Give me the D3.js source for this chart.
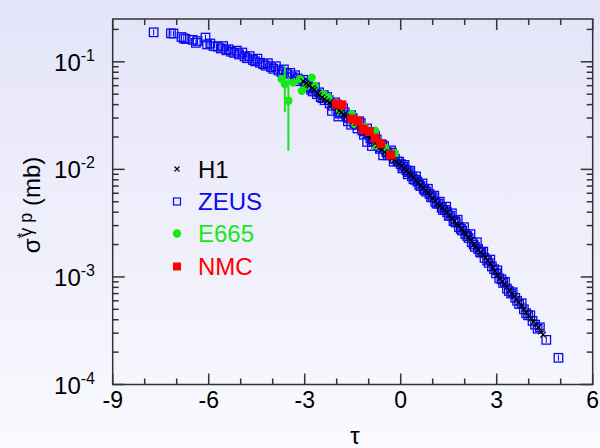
<!DOCTYPE html>
<html><head><meta charset="utf-8">
<script src="https://cdn.jsdelivr.net/npm/d3@7"></script>
<style>html,body{margin:0;padding:0;background:#f0f0fb;overflow:hidden}</style>
</head><body>
<svg id="c" width="600" height="448"></svg>
<script>
// ---- data (tau, sigma in mb) ----
const zeusTau = [-7.72,-7.18,-7.10,-6.85,-6.78,-6.72,-6.50,-6.40,-6.35,-6.10,-6.05,-5.95,-5.85,-5.72,-5.62,-5.55,-5.45,-5.38,-5.30,-5.20,-5.12,-5.05,-4.95,-4.88,-4.80,-4.72,-4.62,-4.55,-4.48,-4.40,-4.30,-4.22,-4.15,-4.05,-3.98,-3.90,-3.82,-3.72,-3.65,-3.55,-3.45,-3.38,-3.30,-3.22,-3.15,-3.05,-2.98,-2.90,-2.80,-2.72,-2.62,-2.55,-2.45,-2.38,-2.30,-2.22,-2.15,-2.12,-2.05,-1.95,-1.95,-1.88,-1.80,-1.70,-1.62,-1.55,-1.55,-1.45,-1.38,-1.30,-1.20,-1.12,-1.05,-1.05,-0.95,-0.90,-0.88,-0.80,-0.70,-0.62,-0.55,-0.52,-0.45,-0.35,-0.28,-0.18,-0.10,0.00,0.08,0.18,0.25,0.35,0.45,0.52,0.62,0.72,0.80,0.90,1.00,1.08,1.18,1.28,1.38,1.45,1.55,1.65,1.72,1.82,1.92,2.02,2.12,2.22,2.32,2.42,2.52,2.62,2.75,2.85,2.98,3.08,3.20,3.32,3.45,3.58,3.70,3.85,3.98,4.12,4.28,4.55,4.93,
  -2.95,-2.85,-2.75,-2.68,-2.50,-2.40,-2.25,-2.00,-1.90,-1.75,-1.65,-1.50,-1.35,-1.25,-1.15,-1.00,-0.85,-0.75,-0.65,-0.58,-0.40,-0.30,-0.22,-0.05,0.05,0.12,0.22,0.30,0.40,0.48,0.58,0.68,0.75,0.85,0.95,1.05,1.12,1.22,1.32,1.42,1.50,1.60,1.70,1.78,1.88,1.98,2.08,2.18,2.28,2.38,2.48,2.58,2.70,2.80,2.92,3.02,3.15,3.26,3.38,3.50,3.64,3.78,3.92,4.05,4.20,4.35];
const zeusSigma = [0.188,0.184,0.183,0.170,0.165,0.163,0.160,0.150,0.156,0.168,0.145,0.148,0.140,0.138,0.133,0.140,0.128,0.131,0.124,0.121,0.127,0.117,0.122,0.112,0.108,0.113,0.104,0.101,0.107,0.098,0.095,0.092,0.097,0.089,0.086,0.091,0.083,0.080,0.085,0.077,0.079,0.072,0.075,0.070,0.066,0.068,0.060,0.062,0.055,0.057,0.050,0.052,0.046,0.044,0.047,0.041,0.035,0.039,0.042,0.036,0.031,0.034,0.037,0.031,0.030,0.032,0.026,0.027,0.026,0.028,0.023,0.0225,0.024,0.018,0.0195,0.0165,0.0190,0.0205,0.0168,0.0160,0.0135,0.0165,0.0145,0.0138,0.0143,0.0125,0.0118,0.0112,0.0106,0.0098,0.0094,0.0086,0.0080,0.0077,0.0070,0.0066,0.0062,0.0059,0.0055,0.0050,0.0048,0.0044,0.0042,0.0040,0.0037,0.0033,0.0032,0.0029,0.0027,0.0025,0.0023,0.0021,0.0019,0.00182,0.00168,0.00150,0.00135,0.00125,0.00108,0.00097,0.00088,0.00078,0.00070,0.00064,0.00056,0.00050,0.00044,0.00039,0.00033,0.00026,0.000177,
  0.064,0.058,0.053,0.058,0.047,0.049,0.044,0.040,0.033,0.034,0.028,0.030,0.024,0.027,0.021,0.022,0.018,0.019,0.0155,0.0170,0.0135,0.0150,0.0118,0.0118,0.0102,0.0110,0.0090,0.0097,0.0081,0.0086,0.0072,0.0074,0.0064,0.0066,0.0055,0.0057,0.0048,0.0050,0.0042,0.0045,0.0037,0.0039,0.0033,0.0034,0.0028,0.0029,0.0024,0.0025,0.0020,0.0021,0.0017,0.00172,0.00142,0.00145,0.00118,0.00115,0.00095,0.00090,0.00074,0.00072,0.00060,0.00057,0.00046,0.00044,0.00036,0.00034];

const h1Tau = [-3.05,-2.95,-2.85,-2.70,-2.55,-2.45,-2.30,-2.15,-2.00,-1.85,-1.70,-1.55,-1.40,-1.25,-1.10,-0.95,-0.80,-0.65,-0.50,-0.35,-0.20,-0.05,0.10,0.25,0.40,0.55,0.70,0.85,1.00,1.15,1.30,1.45,1.60,1.75,1.90,2.05,2.20,2.35,2.50,2.65,2.80,2.95,3.10,3.25,3.40,3.55,3.70,3.85,4.00,4.15,4.30,4.45,
  -2.90,-2.75,-2.60,-2.38,-2.22,-2.08,-1.92,-1.78,-1.62,-1.48,-1.32,-1.18,-1.02,-0.88,-0.72,-0.58,-0.42,-0.28,-0.12,0.02,0.18,0.32,0.48,0.62,0.78,0.92,1.08,1.22,1.38,1.52,1.68,1.82,1.98,2.12,2.28,2.42,2.58,2.72,2.88,3.02,3.18,3.32,3.48,3.62,3.78,3.92,4.08,4.22,4.38];
const h1Sigma = [0.066,0.063,0.060,0.055,0.049,0.047,0.043,0.040,0.037,0.034,0.031,0.029,0.027,0.0245,0.022,0.0195,0.0175,0.0160,0.0145,0.0133,0.0122,0.0113,0.0102,0.0093,0.0084,0.0075,0.0067,0.0061,0.0054,0.0048,0.0044,0.0040,0.0035,0.0031,0.0028,0.0025,0.0022,0.0019,0.0017,0.00152,0.00133,0.00113,0.00097,0.00086,0.00075,0.00066,0.00058,0.00050,0.00044,0.00038,0.00034,0.00029,
  0.061,0.057,0.051,0.045,0.042,0.039,0.035,0.032,0.030,0.028,0.0255,0.0232,0.0205,0.0185,0.0167,0.0152,0.0139,0.0127,0.0117,0.0107,0.0097,0.0088,0.0079,0.0071,0.0064,0.0057,0.0051,0.0046,0.0042,0.0037,0.0033,0.0030,0.0026,0.0023,0.0020,0.0018,0.0016,0.00142,0.00122,0.00104,0.00091,0.00080,0.00070,0.00062,0.00054,0.00047,0.00041,0.00036,0.00031];

const e665Tau   = [-3.72,-3.62,-3.51,-3.36,-3.15,-3.09,-2.94,-2.78,-2.68,-2.42,-2.26,-1.90,-1.53,-1.43,-1.12,-0.80,-0.75,-0.49,-0.18];
const e665Sigma = [0.069,0.062,0.0434,0.064,0.069,0.0537,0.0597,0.0713,0.0597,0.050,0.0466,0.0351,0.0327,0.0264,0.0246,0.0229,0.0166,0.0158,0.0141];
const e665Err   = [0.004,0.028,0.0285,0.004,0.004,0.003,0.003,0.004,0.003,0.003,0.002,0.002,0.002,0.0015,0.0015,0.0012,0.001,0.001,0.001];

const nmcTau   = [-2.00,-1.84,-1.53,-1.33,-1.17,-0.98,-0.80,-0.62,-0.31];
const nmcSigma = [0.0405,0.0398,0.0294,0.0279,0.0237,0.0225,0.0195,0.0174,0.0136];

const xTickLabels = [-9,-6,-3,0,3,6];
const yTickExps = [-1,-2,-3,-4];
const legendNames = ["H1","ZEUS","E665","NMC"];
const legendColors = ["#000000","#0a0af0","#18e818","#ff0000"];

// ---- drawing ----
const W=600,H=448;
const L=112.7,R=592.7,T=19,B=384.5;
const FONT = "'Liberation Sans', Arial, Helvetica, sans-serif";
const svg = d3.select('#c');
const defs = svg.append('defs');
const grad = defs.append('linearGradient').attr('id','bg').attr('x1',0).attr('y1',0).attr('x2',0).attr('y2',1);
grad.append('stop').attr('offset','0%').attr('stop-color','#e4e4f9');
grad.append('stop').attr('offset','100%').attr('stop-color','#f9f9fe');
svg.append('rect').attr('width',W).attr('height',H).attr('fill','url(#bg)');

const x = d3.scaleLinear().domain([-9,6]).range([L,R]);
const y = d3.scaleLog().domain([1e-4,0.25]).range([B,T]);

const zeus = zeusTau.map((t,i)=>({t, s:zeusSigma[i]}));
const h1 = h1Tau.map((t,i)=>({t, s:h1Sigma[i]}));
const e665 = e665Tau.map((t,i)=>({t, s:e665Sigma[i], e:e665Err[i]}));
const nmc = nmcTau.map((t,i)=>({t, s:nmcSigma[i]}));

const plot = svg.append('g');
// ZEUS
const zg = plot.append('g');
zg.selectAll('rect').data(zeus).join('rect')
  .attr('x',d=>x(d.t)-4.25).attr('y',d=>y(d.s)-4.25).attr('width',8.5).attr('height',8.5)
  .attr('fill','none').attr('stroke','#0a0af0').attr('stroke-width',1.3);
zg.selectAll('line').data(zeus).join('line')
  .attr('x1',d=>x(d.t)).attr('x2',d=>x(d.t))
  .attr('y1',d=>y(d.s)-3).attr('y2',d=>y(d.s)+3)
  .attr('stroke','#0a0af0').attr('stroke-width',1);
// E665
const eg = plot.append('g');
eg.selectAll('line').data(e665).join('line')
  .attr('x1',d=>x(d.t)).attr('x2',d=>x(d.t))
  .attr('y1',d=>y(d.s+d.e)).attr('y2',d=>y(d.s-d.e))
  .attr('stroke','#18e818').attr('stroke-width',2);
eg.selectAll('circle').data(e665).join('circle')
  .attr('cx',d=>x(d.t)).attr('cy',d=>y(d.s)).attr('r',4.2).attr('fill','#18e818');
// H1
const hg = plot.append('g');
hg.selectAll('path').data(h1).join('path')
  .attr('d',d=>{const cx=x(d.t),cy=y(d.s),k=2.8;return `M${cx-k},${cy-k}L${cx+k},${cy+k}M${cx-k},${cy+k}L${cx+k},${cy-k}`;})
  .attr('stroke','#000').attr('stroke-width',1.1);
// NMC
plot.append('g').selectAll('rect').data(nmc).join('rect')
  .attr('x',d=>x(d.t)-4.5).attr('y',d=>y(d.s)-4.5).attr('width',9).attr('height',9)
  .attr('fill','#ff0000');

// ---- frame & ticks ----
const ax = svg.append('g').attr('stroke','#333').attr('stroke-width',1.5).attr('fill','none');
ax.append('rect').attr('x',L).attr('y',T).attr('width',R-L).attr('height',B-T);
const xMinor = d3.range(-9,7,1);
xMinor.forEach(v=>{
  const major = (v%3===0);
  const len = major?11:6;
  const px = x(v);
  ax.append('line').attr('x1',px).attr('x2',px).attr('y1',B).attr('y2',B-len);
  ax.append('line').attr('x1',px).attr('x2',px).attr('y1',T).attr('y2',T+len);
});
const yTicks = [];
[-4,-3,-2,-1].forEach(e=>{ for(let m=1;m<=9;m++){ const v=m*Math.pow(10,e); if(v<=0.25) yTicks.push({v,major:m===1}); } });
yTicks.forEach(t=>{
  const py = y(t.v), len = t.major?12:6;
  ax.append('line').attr('x1',L).attr('x2',L+len).attr('y1',py).attr('y2',py);
  ax.append('line').attr('x1',R).attr('x2',R-len).attr('y1',py).attr('y2',py);
});

// tick labels
const tl = svg.append('g').attr('font-family',FONT).attr('fill','#000');
xTickLabels.forEach(v=>{
  tl.append('text').attr('x',x(v)).attr('y',408).attr('text-anchor','middle')
    .attr('font-size',23).text(v);
});
yTickExps.forEach(e=>{
  const t = tl.append('text').attr('x',95).attr('y',y(Math.pow(10,e))+9).attr('text-anchor','end').attr('font-size',24);
  t.append('tspan').text('10');
  t.append('tspan').attr('font-size',16).attr('dy',-10).text(e);
});

// axis titles
svg.append('text').attr('x',355).attr('y',444).attr('text-anchor','middle')
  .attr('font-family',FONT).attr('font-size',24).text('τ');
const yl = svg.append('text').attr('transform','translate(40,205) rotate(-90)')
  .attr('text-anchor','middle').attr('font-family',FONT).attr('font-size',24);
yl.append('tspan').text('σ');
yl.append('tspan').attr('font-size',15).attr('dy',-13).text('*');
yl.append('tspan').attr('font-size',18).attr('dy',5).attr('dx',-4).text('γ p');
yl.append('tspan').attr('dy',8).text(' (mb)');

// legend
const lg = svg.append('g').attr('font-family',FONT).attr('font-size',24);
const rowY = [169,201.5,233.5,266.5];
legendNames.forEach((n,i)=>{
  const cy=rowY[i], cx=177;
  if(i===0){ lg.append('path').attr('d',`M${cx-2.5},${cy-2.5}L${cx+2.5},${cy+2.5}M${cx-2.5},${cy+2.5}L${cx+2.5},${cy-2.5}`).attr('stroke','#000').attr('stroke-width',1.1); }
  if(i===1){ lg.append('rect').attr('x',cx-3.5).attr('y',cy-3.5).attr('width',7).attr('height',7).attr('fill','none').attr('stroke','#0a0af0').attr('stroke-width',1.2); }
  if(i===2){ lg.append('circle').attr('cx',cx).attr('cy',cy).attr('r',4.2).attr('fill','#18e818'); }
  if(i===3){ lg.append('rect').attr('x',cx-4).attr('y',cy-4).attr('width',8).attr('height',8).attr('fill','#ff0000'); }
  lg.append('text').attr('x',198).attr('y',cy+8.5).attr('fill',legendColors[i]).text(n);
});
</script>
</body></html>
